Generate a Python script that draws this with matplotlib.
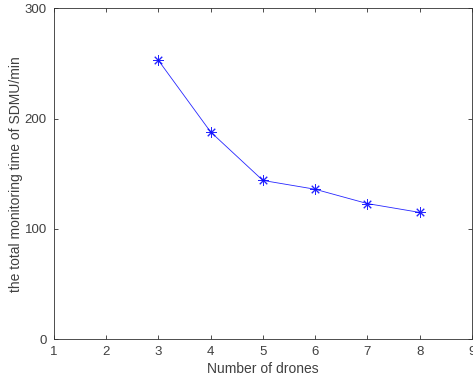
import matplotlib
matplotlib.use("Agg")
import matplotlib.pyplot as plt

drones = [3, 4, 5, 6, 7, 8]
monitoring_time = [253, 188, 144, 136, 123, 115]
x_ticks = [1, 2, 3, 4, 5, 6, 7, 8, 9]
y_ticks = [0, 100, 200, 300]

plt.rcParams['font.family'] = ['Liberation Sans', 'DejaVu Sans']
fig = plt.figure(figsize=(4.73, 3.85), dpi=100)
ax = fig.add_axes([0.1135, 0.1187, 0.8845, 0.8597])
ax.plot(drones, monitoring_time, color='#0000ff', lw=0.6, marker=(8, 2, 0),
        markersize=7.5, markeredgewidth=0.7, alpha=0.85)
ax.set_xlim(1, 9)
ax.set_ylim(0, 300)
ax.set_xticks(x_ticks)
ax.set_yticks(y_ticks)
gray = '#404040'
for s in ax.spines.values():
    s.set_color('#303030')
    s.set_linewidth(0.6)
ax.tick_params(direction='in', top=True, right=True, length=3, width=0.6,
               colors='#303030', labelcolor=gray, labelsize=9.5, pad=5)
ax.set_xlabel('Number of drones', fontsize=10, color=gray, labelpad=3)
ax.set_ylabel('the total monitoring time of SDMU/min', fontsize=10, color=gray, labelpad=1)
fig.savefig('out.png', dpi=100)
